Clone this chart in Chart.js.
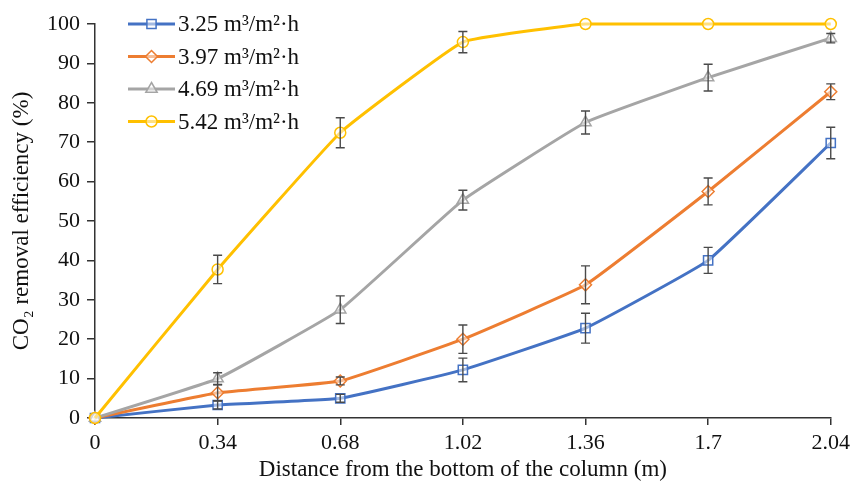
<!DOCTYPE html>
<html>
<head>
<meta charset="utf-8">
<script src="https://cdn.jsdelivr.net/npm/chart.js@4/dist/chart.umd.min.js"></script>
<style>
  html, body { margin: 0; padding: 0; background: #fff; }
</style>
</head>
<body>
<canvas id="chart" width="855" height="487"></canvas>
<script>
const distances = ['0', '0.34', '0.68', '1.02', '1.36', '1.7', '2.04'];
const seriesNames = ['3.25 m³/m²·h', '3.97 m³/m²·h', '4.69 m³/m²·h', '5.42 m³/m²·h'];

const flow325 = [0, 3.3, 5, 12.2, 22.8, 40, 69.8];
const flow397 = [0, 6.4, 9.4, 20, 33.8, 57.5, 82.8];
const flow469 = [0, 10, 27.5, 55.3, 75, 86.4, 96.4];
const flow542 = [0, 37.7, 72.4, 95.4, 100, 100, 100];

const err325 = [0, 1, 1, 3, 3.8, 3.3, 4];
const err397 = [0, 2, 1, 3.6, 4.8, 3.4, 2];
const err469 = [0, 1.5, 3.5, 2.5, 2.9, 3.4, 1.2];
const err542 = [0, 3.6, 3.8, 2.7, 0, 0, 0];

const yTicks = [0, 10, 20, 30, 40, 50, 60, 70, 80, 90, 100];

const lineColors = ['#4472C4', '#ED7D31', '#A5A5A5', '#FFC000'];
const markerStyles = ['rect', 'rectRot', 'triangle', 'circle'];
const markerSizes = [6.5, 6, 6.5, 5.5];

const values = [flow325, flow397, flow469, flow542];
const errors = [err325, err397, err469, err542];

const serif = "'Liberation Serif', 'Times New Roman', serif";
Chart.defaults.font.family = serif;
Chart.defaults.color = '#111';

function drawMarker(ctx, style, x, y, r) {
  ctx.beginPath();
  if (style === 'rect') {
    const s = r * Math.SQRT1_2;
    ctx.rect(x - s, y - s, 2 * s, 2 * s);
  } else if (style === 'rectRot') {
    ctx.moveTo(x, y - r);
    ctx.lineTo(x + r, y);
    ctx.lineTo(x, y + r);
    ctx.lineTo(x - r, y);
    ctx.closePath();
  } else if (style === 'triangle') {
    ctx.moveTo(x, y - r);
    ctx.lineTo(x + r * 0.87, y + r * 0.5);
    ctx.lineTo(x - r * 0.87, y + r * 0.5);
    ctx.closePath();
  } else {
    ctx.arc(x, y, r, 0, Math.PI * 2);
  }
  ctx.fill();
  ctx.stroke();
}

// error bars drawn from the y scale
const errorBars = {
  id: 'errorBars',
  afterDatasetsDraw(chart) {
    const ctx = chart.ctx;
    const yScale = chart.scales.y;
    ctx.save();
    ctx.strokeStyle = '#4a4a4a';
    ctx.lineWidth = 1.4;
    chart.data.datasets.forEach((ds, i) => {
      const meta = chart.getDatasetMeta(i);
      meta.data.forEach((pt, j) => {
        const e = errors[i][j];
        if (!e) return;
        const v = ds.data[j];
        const top = yScale.getPixelForValue(v + e);
        const bot = yScale.getPixelForValue(v - e);
        ctx.beginPath();
        ctx.moveTo(pt.x, top);
        ctx.lineTo(pt.x, bot);
        ctx.moveTo(pt.x - 4.5, top);
        ctx.lineTo(pt.x + 4.5, top);
        ctx.moveTo(pt.x - 4.5, bot);
        ctx.lineTo(pt.x + 4.5, bot);
        ctx.stroke();
      });
    });
    ctx.restore();
  },
};

// legend inside the plot, line sample with marker
const insideLegend = {
  id: 'insideLegend',
  afterDraw(chart) {
    const ctx = chart.ctx;
    const area = chart.chartArea;
    ctx.save();
    ctx.font = '23px ' + serif;
    ctx.textBaseline = 'middle';
    chart.data.datasets.forEach((ds, i) => {
      const y = area.top + i * 32.5;
      const x0 = area.left + 33;
      const x1 = area.left + 80;
      ctx.strokeStyle = ds.borderColor;
      ctx.lineWidth = 3;
      ctx.beginPath();
      ctx.moveTo(x0, y);
      ctx.lineTo(x1, y);
      ctx.stroke();
      ctx.fillStyle = 'rgba(255,255,255,0.5)';
      ctx.lineWidth = 1.5;
      drawMarker(ctx, markerStyles[i], (x0 + x1) / 2, y, markerSizes[i]);
      ctx.fillStyle = '#111';
      ctx.fillText(ds.label, x1 + 3, y + 1);
    });
    ctx.restore();
  },
};

const renderChart = () => {
  const canvas = document.getElementById('chart');
  const datasets = values.map((data, i) => ({
    label: seriesNames[i],
    data: data,
    borderColor: lineColors[i],
    backgroundColor: 'rgba(255,255,255,0.5)',
    borderWidth: 3,
    pointStyle: markerStyles[i],
    pointRadius: markerSizes[i],
    pointBorderWidth: 1.5,
    pointBorderColor: lineColors[i],
    pointBackgroundColor: 'rgba(255,255,255,0.5)',
    tension: 0.1,
    clip: false,
    order: 4 - i,
  }));

  new Chart(canvas, {
    type: 'line',
    data: { labels: distances, datasets: datasets },
    options: {
      responsive: false,
      animation: false,
      devicePixelRatio: 1,
      layout: { padding: { top: 24, right: 20, left: 0, bottom: 0 } },
      plugins: {
        legend: { display: false },
        tooltip: { enabled: false },
      },
      scales: {
        x: {
          type: 'category',
          offset: false,
          grid: { display: true, drawOnChartArea: false, tickLength: 7, color: '#333', lineWidth: 1.5 },
          border: { color: '#333', width: 1.5 },
          ticks: { font: { size: 22 }, color: '#111', padding: 5, maxRotation: 0, autoSkip: false },
          title: {
            display: true,
            text: 'Distance from the bottom of the column (m)',
            font: { size: 23 },
            color: '#111',
            padding: { top: 0, bottom: 3 },
          },
          afterFit(scale) { scale.height = 69; },
        },
        y: {
          min: 0,
          max: 100,
          afterBuildTicks(scale) { scale.ticks = yTicks.map((v) => ({ value: v })); },
          grid: { display: true, drawOnChartArea: false, tickLength: 8, color: '#333', lineWidth: 1.5 },
          border: { color: '#333', width: 1.5 },
          ticks: { font: { size: 22 }, color: '#111', padding: 7 },
          title: {
            display: true,
            text: 'CO₂ removal efficiency (%)',
            font: { size: 23 },
            color: '#111',
            padding: { top: 8, bottom: 0 },
          },
          afterFit(scale) { scale.width = 95; },
        },
      },
    },
    plugins: [errorBars, insideLegend],
  });
};

renderChart();
</script>
</body>
</html>
